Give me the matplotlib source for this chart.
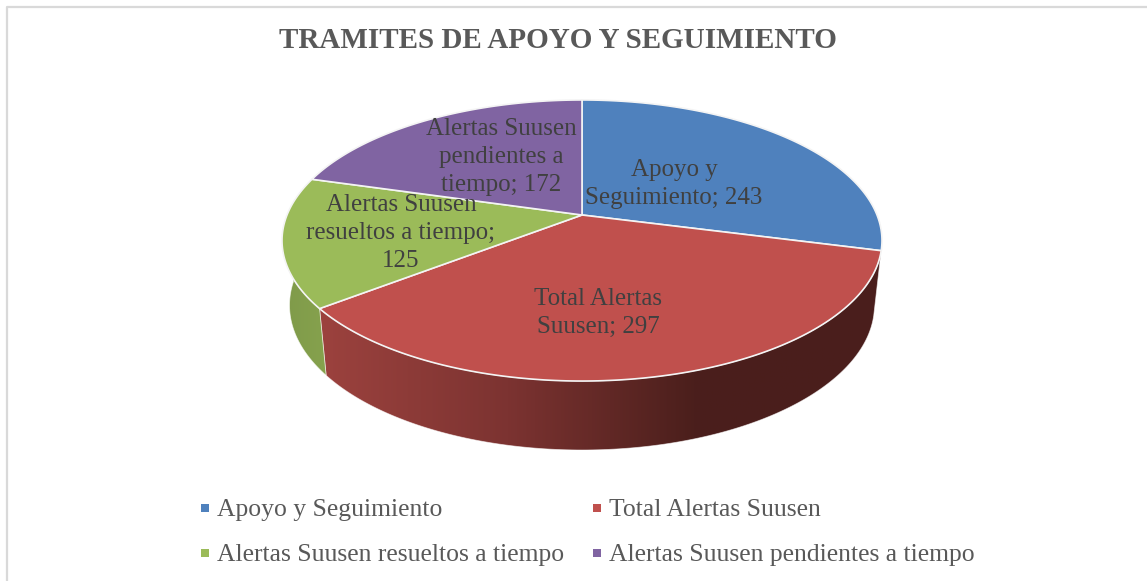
import numpy as np
import matplotlib
matplotlib.use("Agg")
import matplotlib.pyplot as plt
from matplotlib.colors import LinearSegmentedColormap
from matplotlib.patches import Polygon, Rectangle

title = "TRAMITES DE APOYO Y SEGUIMIENTO"
categories = ["Apoyo y Seguimiento", "Total Alertas Suusen",
              "Alertas Suusen resueltos a tiempo", "Alertas Suusen pendientes a tiempo"]
values = [243, 297, 125, 172]
colors = ["#4f81bd", "#c0504d", "#9bbb59", "#8064a2"]

plt.rcParams["font.family"] = "Liberation Serif"

W, H = 1147, 581
fig = plt.figure(figsize=(W / 100, H / 100), dpi=100)
ax = fig.add_axes([0, 0, 1, 1])
ax.set_xlim(0, W)
ax.set_ylim(H, 0)
ax.axis("off")

# pie seen in perspective
cx, cy = 582, 215
k, c, rx = 135.9, 0.1815, 295


def ring(theta, scale_x=1.0, scale_y=1.0, y0=cy):
    u, v = np.sin(theta), np.cos(theta)
    d = 1 + c * v
    return np.column_stack((cx + scale_x * rx * u / d, y0 - scale_y * k * v / d))


def bottom(theta):
    return ring(theta, 0.975, 1.03, 279)


edges = np.radians(np.cumsum([0] + values) / sum(values) * 360)


def side(a, b, cmap, z):
    t = np.linspace(a, b, 150)
    pts = np.vstack((ring(t), bottom(t)[::-1]))
    x0, x1 = pts[:, 0].min(), pts[:, 0].max()
    y0, y1 = pts[:, 1].min(), pts[:, 1].max()
    grad = np.linspace(0, 1, 256)[None, :]
    im = ax.imshow(grad, extent=(x0, x1, y1, y0), cmap=cmap, aspect="auto", zorder=z)
    clip = Polygon(pts, closed=True, transform=ax.transData)
    im.set_clip_path(clip)
    ax.add_patch(Polygon(pts, closed=True, fill=False, ec="#ffffff", lw=0.6, alpha=0.6, zorder=z))


red_side = LinearSegmentedColormap.from_list("r", ["#9c423e", "#7c3331", "#4b1f1c", "#4a1e1c"])
green_side = LinearSegmentedColormap.from_list("g", ["#7f9a4a", "#86a24d"])
side(edges[1], edges[2], red_side, 1)
side(edges[2], edges[3] - 0.3, green_side, 1)
ax.set_xlim(0, W)
ax.set_ylim(H, 0)

for i in range(len(values)):
    t = np.linspace(edges[i], edges[i + 1], 150)
    pts = np.vstack(([[cx, cy]], ring(t)))
    ax.add_patch(Polygon(pts, closed=True, fc=colors[i], ec="#f4f4f4", lw=1.2, zorder=3))

# chart frame
ax.plot([7, 7, W], [H, 7, 7], color="#d9d9d9", lw=1.6, zorder=0)

ax.text(558, 40, title, ha="center", va="center", fontsize=21, fontweight="bold", color="#595959")

label_txt = ["Apoyo y\nSeguimiento; %d" % values[0],
             "Total Alertas\nSuusen; %d" % values[1],
             "Alertas Suusen\nresueltos a tiempo;\n%d" % values[2],
             "Alertas Suusen\npendientes a\ntiempo; %d" % values[3]]
label_pos = [(674, 184), (598, 313), (401, 233), (501, 157)]
for s, (x, y) in zip(label_txt, label_pos):
    ax.text(x, y, s, ha="center", va="center", fontsize=18, color="#404040", linespacing=1.35, zorder=5)

legend_pos = [(201, 508), (593, 508), (201, 553), (593, 553)]
for name, col, (x, y) in zip(categories, colors, legend_pos):
    ax.add_patch(Rectangle((x, y - 4), 8, 8, fc=col, ec="none", zorder=5))
    ax.text(x + 16, y + 2, name, ha="left", va="center", fontsize=18.45, color="#595959", zorder=5)

fig.savefig("out.png", dpi=100)
